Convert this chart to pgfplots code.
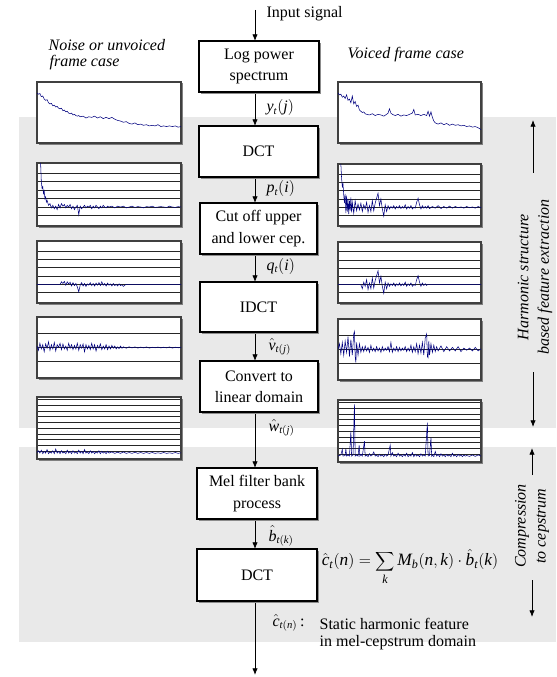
\documentclass[border=0pt]{standalone}
\usepackage{fontspec}
\setmainfont{Liberation Serif}
\usepackage{pgfplots}
\pgfplotsset{compat=1.18}
\usetikzlibrary{arrows.meta}
\definecolor{band}{RGB}{233,233,233}
\definecolor{navy}{RGB}{0,0,128}
\pgfplotsset{mini/.style={scale only axis, anchor=north west, xmin=0, xmax=100,
  xtick=\empty, yticklabels={}, major tick length=0pt, ymajorgrids,
  grid style={black!85, line width=0.6pt},
  axis line style={black!75, line width=1.3pt},
  axis background/.style={fill=white},
  cycle list={{navy, no markers, line width=0.55pt}}},
  cep/.style={ymin=-1.24, ymax=6.2, ytick={0,1,2,3,4,5}},
  idct/.style={ymin=-1.15, ymax=3.15, ytick={0,1,2}},
  lin/.style={ymin=-0.93, ymax=9.86, ytick={0.4,1.4,2.4,3.4,4.4,5.4,6.4,7.4,8.4,9.4}}}
\newcommand\pbox[5]{%
  \fill[black!45] (#1+2,#2+2) rectangle (#3+2,#4+2);
  \draw[fill=white, line width=0.8pt] (#1,#2) rectangle (#3,#4);
  \node[align=center, font=\fontsize{12}{16}\selectfont] at ({(#1+#3)/2},{(#2+#4)/2}) {#5};}
\newcommand\shad[4]{\fill[black!50] (#1+1.5,#2+1.5) rectangle (#1+#3+2,#2+#4+2);}
\newcommand\mi[1]{\mathit{#1}}
\begin{document}
\begin{tikzpicture}
\begin{scope}[x=0.75pt,y=-0.75pt]
\useasboundingbox (0,0) rectangle (556,677);
\fill[band] (19,117) rectangle (556,428);
\fill[band] (19,447) rectangle (556,642);
\shad{37}{82}{144}{61}
\shad{37}{163}{144}{63}
\shad{37}{241}{144}{62}
\shad{37}{317}{144}{61}
\shad{37}{397}{144}{62}
\shad{338}{82}{143}{61}
\shad{338}{164}{143}{62}
\shad{338}{242}{143}{61}
\shad{338}{319}{143}{61}
\shad{338}{400}{143}{62}
\end{scope}

% ---- left column: noise / unvoiced
\begin{axis}[mini, at={(27.75pt,-61.5pt)}, width=108pt, height=45.75pt, ymin=0, ymax=100, ytick=\empty]
\addplot table {
0 82
1 80
2 81
3 76
4 77
5 72
6 70
7 71
8 66
9 64
10 65
11 61
12 62
13 59
14 60
15 57
16 56
17 57
18 53
19 54
20 51
21 52
22 49
23 48
24 49
25 46
26 47
27 45
28 44
29 45
30 43
32 44
34 41
36 43
38 42
40 44
42 41
44 43
46 40
48 42
50 40
52 42
54 39
56 37
58 36
60 34
62 35
64 32
66 31
68 33
70 30
72 31
74 29
76 30
78 28
80 29
82 28
84 30
86 27
88 28
90 27
92 28
94 27
96 28
98 26
100 27
};
\end{axis}

\begin{axis}[mini, cep, at={(27.75pt,-122.25pt)}, width=108pt, height=47.25pt]
\addplot table {
2.5 6.2
3 4.0
3.5 3.2
4 3.4
4.5 2.6
5 2.9
5.5 2.0
6 2.2
6.5 1.6
7 1.8
8 1.2
9 1.4
10 0.9
11 1.2
12 0.8
13 1.1
14 0.7
15 1.3
16 0.9
17 1.4
18 1.1
19 1.3
20 0.9
21 1.2
22 1.0
23 1.3
24 0.8
25 1.1
26 0.7
27 1.0
28 1.2
29 0.1
30 1.1
31 0.8
32 1.0
33 1.2
34 0.9
35 1.1
36 1.0
37 1.2
38 0.8
39 1.1
40 0.9
41 1.2
42 1.0
43 0.8
44 1.1
45 0.9
46 1.2
47 1.0
48 0.9
49 1.1
50 1.0
52 1.1
54 0.9
56 1.1
58 1.0
60 1.1
62 0.9
64 1.0
66 1.1
68 0.95
70 1.05
72 1.0
74 0.9
76 1.05
78 1.0
80 1.1
82 0.95
84 1.0
86 1.05
88 1.0
90 0.95
92 1.1
94 1.0
96 0.95
98 1.05
100 1.0
};
\end{axis}

\begin{axis}[mini, cep, at={(27.75pt,-180.75pt)}, width=108pt, height=46.5pt]
\addplot table {
0 1
16 1
17 1.3
18 1.1
19 1.35
20 0.9
21 1.3
22 1.05
23 1.25
24 0.8
25 1.2
26 0.85
27 1.1
28 0.7
29 0.1
30 0.9
31 1.2
32 0.8
33 1.1
34 0.75
35 1.05
36 0.9
37 1.2
38 0.85
39 1.1
40 0.8
41 1.15
42 0.9
43 1.2
44 0.85
45 1.3
46 0.9
47 1.1
48 0.8
49 1.15
50 0.9
51 1.05
52 0.8
53 1.1
54 0.85
55 1.0
56 0.8
57 1.05
58 0.85
59 0.95
60 0.75
61 0.9
62 1
100 1
};
\end{axis}

\begin{axis}[mini, idct, at={(27.75pt,-237.75pt)}, width=108pt, height=45.75pt]
\addplot table {
0 1.1
1 0.8
2 1.3
3 0.9
4 1.2
5 0.7
6 1.25
7 0.95
8 1.4
9 0.8
10 1.2
11 0.9
12 1.35
13 0.75
14 1.2
15 1.0
16 1.3
17 0.85
18 1.25
19 0.9
20 1.1
21 0.8
22 1.3
23 0.95
24 1.2
25 0.85
26 1.15
27 0.9
28 1.3
29 0.8
30 1.2
31 0.95
32 1.25
33 0.7
34 1.2
35 0.9
36 1.15
37 0.85
38 1.3
39 0.9
40 1.2
41 0.75
42 1.15
43 0.95
44 1.25
45 0.85
46 1.1
47 0.9
48 1.2
49 0.85
50 1.1
51 0.9
52 1.15
53 0.95
54 1.1
55 0.9
56 1.05
57 0.92
58 1.1
59 0.95
60 1.05
62 0.95
64 1.05
66 0.97
68 1.04
70 0.96
72 1.03
74 0.97
76 1.04
78 0.96
80 1.02
82 0.98
84 1.03
86 0.97
88 1.02
90 0.97
92 1.04
94 0.96
96 1.02
98 0.98
100 1.0
};
\end{axis}

\begin{axis}[mini, lin, at={(27.75pt,-297.75pt)}, width=108pt, height=46.5pt]
\addplot table {
0 0.2
1 0.5
2 0.1
3 0.6
4 0.0
5 0.4
6 0.1
7 0.7
8 0.0
9 0.3
10 0.1
11 0.5
12 0.0
13 0.8
14 0.1
15 0.4
16 0.0
17 0.5
18 0.1
19 0.3
20 0.0
21 0.6
22 0.1
23 0.4
24 0.0
25 0.5
26 0.1
27 0.3
28 0.0
29 0.6
30 0.1
31 0.4
32 0.0
33 0.7
34 0.1
35 0.3
36 0.0
37 0.5
38 0.1
39 0.4
40 0.0
41 0.3
42 0.1
43 0.5
44 0.0
45 0.4
46 0.1
47 0.3
48 0.0
49 0.4
50 0.1
52 0.3
54 0.05
56 0.25
58 0.05
60 0.3
62 0.05
64 0.2
66 0.05
68 0.25
70 0.05
72 0.2
74 0.05
76 0.2
78 0.05
80 0.2
82 0.05
84 0.15
86 0.05
88 0.2
90 0.05
92 0.15
94 0.05
96 0.2
98 0.05
100 0.15
};
\end{axis}

% ---- right column: voiced
\begin{axis}[mini, at={(253.5pt,-61.5pt)}, width=107.25pt, height=45.75pt, ymin=0, ymax=100, ytick=\empty]
\addplot table {
0 82
1 79
2 80
3 75
4 77
5 73
6 79
7 70
8 72
9 66
10 77
11 64
12 68
13 60
14 62
15 54
16 52
17 50
18 51
19 48
20 47
22 46
24 48
26 45
28 47
30 46
32 44
34 47
35 49
36 56
37 49
38 47
40 45
42 47
44 44
46 46
48 45
50 47
52 49
53 55
54 46
56 47
58 45
60 47
62 45
63 52
64 44
65 51
66 42
67 36
68 33
70 31
72 33
74 30
76 32
78 29
80 31
82 29
84 30
86 28
88 29
90 27
92 28
94 26
96 27
98 25
100 22
};
\end{axis}

\begin{axis}[mini, cep, at={(253.5pt,-123pt)}, width=107.25pt, height=46.5pt]
\addplot table {
2 6.2
2.5 4.5
3 3.5
3.5 3.8
4 2.5
4.5 1.5
5 2.6
5.5 0.3
6 2.4
6.5 0.5
7 2.0
7.5 0.2
8 1.8
8.5 0.6
9 2.2
9.5 0.4
10 1.6
11 0.3
12 1.8
13 0.6
14 1.4
15 0.7
16 1.5
17 0.5
18 1.3
19 0.8
20 1.6
21 0.4
22 1.2
23 0.5
24 1.8
25 0.6
26 1.5
27 2.1
28 2.7
29 1.2
30 2.0
31 0.8
32 -0.05
33 1.3
34 0.5
35 1.2
36 0.8
37 1.1
38 0.9
39 1.2
40 0.8
41 1.1
42 0.9
43 1.2
44 0.85
45 1.1
46 0.9
47 1.3
48 0.8
49 1.1
50 0.9
51 1.2
52 0.8
53 1.0
54 0.9
55 1.6
56 2.1
57 1.3
58 0.8
59 1.2
60 0.9
61 1.1
62 0.9
63 1.2
64 0.85
66 1.1
68 0.9
70 1.2
72 0.85
74 1.1
76 0.9
78 1.15
80 0.9
82 1.1
84 0.95
86 1.05
88 0.9
90 1.1
92 0.95
94 1.05
96 0.9
98 1.1
100 0.95
};
\end{axis}

\begin{axis}[mini, cep, at={(253.5pt,-181.5pt)}, width=107.25pt, height=45.75pt]
\addplot table {
0 1
16 1
17 0.5
18 1.3
19 0.8
20 1.6
21 0.4
22 1.2
23 0.5
24 1.8
25 0.6
26 1.5
27 2.1
28 2.7
29 1.2
30 2.0
31 0.8
32 -0.05
33 1.3
34 0.5
35 1.2
36 0.8
37 1.1
38 0.9
39 1.2
40 0.8
41 1.1
42 0.9
43 1.2
44 0.85
45 1.1
46 0.9
47 1.3
48 0.8
49 1.1
50 0.9
51 1.2
52 0.8
53 1.0
54 0.9
55 1.6
56 2.1
57 1.3
58 0.8
59 1.2
60 0.9
61 1.1
62 0.9
62.5 1
100 1
};
\end{axis}

\begin{axis}[mini, idct, at={(253.5pt,-239.25pt)}, width=107.25pt, height=45.75pt]
\addplot table {
0 1.0
1 1.4
2 0.7
3 1.5
4 0.6
5 1.6
6 0.8
7 1.9
8 0.5
9 1.7
10 0.6
11 2.1
11.5 2.28
12 0.5
12.5 0.07
13 1.5
14 0.6
15 1.4
16 0.8
17 1.2
18 0.85
19 1.25
20 0.9
21 1.15
22 0.8
23 1.3
24 0.9
25 1.1
26 0.85
27 1.2
28 0.9
29 1.1
30 0.8
31 1.2
32 0.9
33 1.1
34 0.95
35 1.2
36 0.85
37 1.5
38 0.8
39 1.1
40 0.9
41 1.2
42 0.85
43 1.15
44 0.9
45 1.1
46 0.95
47 1.2
48 0.85
49 1.1
50 0.9
51 1.3
52 0.8
53 1.2
54 0.85
55 1.4
56 0.7
57 1.3
58 0.75
59 1.5
60 0.6
61 1.8
62 2.1
62.5 0.5
63 0.42
63.5 1.6
64 0.6
65 1.4
66 0.8
67 1.3
68 0.85
69 1.2
70 0.9
72 1.25
74 0.85
76 1.2
78 0.9
80 1.15
82 0.9
84 1.2
86 0.85
88 1.1
90 0.95
92 1.1
94 0.9
96 1.15
98 0.9
100 1.05
};
\end{axis}

\begin{axis}[mini, lin, at={(253.5pt,-300pt)}, width=107.25pt, height=46.5pt]
\addplot table {
0 0.1
2 0.3
3 1.3
3.5 0.1
5 0.2
5.5 1.4
6 0.1
7 0.3
8 0.1
9 4.4
9.5 0.1
10.5 0.3
11.5 9.1
12 0.1
13 0.3
14 0.1
14.8 2.0
15.3 0.1
16 0.4
17 0.1
18.5 2.7
19 0.1
20 0.3
21 0.0
22 0.5
23 0.1
24 0.3
25 0.8
26 0.1
27 0.3
28 0.0
29 0.4
30 0.1
31 0.3
32 0.0
33 0.4
34 0.1
35 0.3
36.5 2.0
37 0.1
38 0.7
39 0.1
40 0.3
41 0.0
42 0.6
43 0.1
44 0.3
45 0.0
46 0.4
47 0.1
48 0.6
49 0.0
50 0.3
51 0.1
52 0.7
53 0.0
54 0.4
55 0.1
56 0.3
57 0.0
58 0.5
59 0.1
60 0.3
61 0.1
62.5 5.9
63 0.1
64 0.2
65 3.3
65.5 0.1
66 0.3
67 0.0
68 0.9
69 0.1
70 0.4
71 0.0
72 0.5
73 0.1
74 0.3
75 0.0
76 0.4
77 0.1
78 0.3
79 0.0
80 0.6
81 0.1
82 0.3
83 0.0
84 0.4
85 0.1
86 0.3
87 0.0
88 0.3
89 0.1
90 0.2
92 0.05
94 0.3
96 0.05
98 0.3
100 0.1
};
\end{axis}

\begin{scope}[x=0.75pt,y=-0.75pt, font=\fontsize{12}{14}\selectfont,
  arr/.style={-{Latex[length=5pt,width=4pt]}, line width=0.6pt}]
% flow arrows
\draw[arr] (255,10) -- (255,41);
\draw[arr] (255,92) -- (255,126);
\draw[arr] (255,177) -- (255,203);
\draw[arr] (255,254) -- (255,282);
\draw[arr] (255,332) -- (255,361);
\draw[arr] (255,412) -- (255,468);
\draw[arr] (255,519) -- (255,549);
\draw[arr] (255,601) -- (255,675);
% boxes
\pbox{199}{41}{319}{92}{Log power\\spectrum}
\pbox{199}{126}{318}{177}{DCT}
\pbox{200}{203}{317}{254}{Cut off upper\\and lower cep.}
\pbox{200}{282}{317}{332}{IDCT}
\pbox{200}{361}{318}{412}{Convert to\\linear domain}
\pbox{197}{468}{317}{519}{Mel filter bank\\process}
\pbox{197}{549}{317}{601}{DCT}
% labels
\node[anchor=west, inner sep=1pt] at (265,14) {Input signal};
\node[anchor=west, inner sep=1pt] at (265,108) {$\mi{y}_{\mi{t}}(\mi{j})$};
\node[anchor=west, inner sep=1pt] at (265,189) {$\mi{p}_{\mi{t}}(\mi{i})$};
\node[anchor=west, inner sep=1pt] at (265,266) {$\mi{q}_{\mi{t}}(\mi{i})$};
\node[anchor=west, inner sep=1pt] at (267,347) {$\hat{\mi{v}}_{\mi{t}(\mi{j})}$};
\node[anchor=west, inner sep=1pt] at (267,428) {$\hat{\mi{w}}_{\mi{t}(\mi{j})}$};
\node[anchor=west, inner sep=1pt] at (267,536) {$\hat{\mi{b}}_{\mi{t}(\mi{k})}$};
\node[font=\fontsize{13}{15}\selectfont, inner sep=1pt] at (410,567) {$\hat{\mi{c}}_{\mi{t}}(\mi{n})=\displaystyle\sum_{\mi{k}} \mi{M}_{\mi{b}}(\mi{n},\mi{k})\cdot\hat{\mi{b}}_{\mi{t}}(\mi{k})$};
\node[anchor=west, inner sep=1pt] at (271,623) {$\hat{\mi{c}}_{\mi{t}(\mi{n})}$\,:};
\node[anchor=west, inner sep=1pt] at (318,624) {Static harmonic feature};
\node[anchor=west, inner sep=1pt] at (318,643) {in mel-cepstrum domain};
% titles
\node[anchor=west, inner sep=1pt, font=\fontsize{12}{14}\selectfont\itshape] at (47,45) {Noise or unvoiced};
\node[anchor=west, inner sep=1pt, font=\fontsize{12}{14}\selectfont\itshape] at (48,63) {frame case};
\node[anchor=west, inner sep=1pt, font=\fontsize{12}{14}\selectfont\itshape] at (346,55) {Voiced frame case};
% right side
\draw[arr] (533,173) -- (533,120);
\draw[arr] (533,372) -- (533,427);
\node[rotate=90, align=center, inner sep=1pt, font=\fontsize{12}{15.5}\selectfont\itshape] at (535,277) {Harmonic structure\\based feature extraction};
\draw[arr] (532,475) -- (532,448);
\draw[arr] (532,580) -- (532,617);
\node[rotate=90, align=center, inner sep=1pt, font=\fontsize{12}{15}\selectfont\itshape] at (532,526) {Compression\\to cepstrum};
\end{scope}
\end{tikzpicture}
\end{document}
